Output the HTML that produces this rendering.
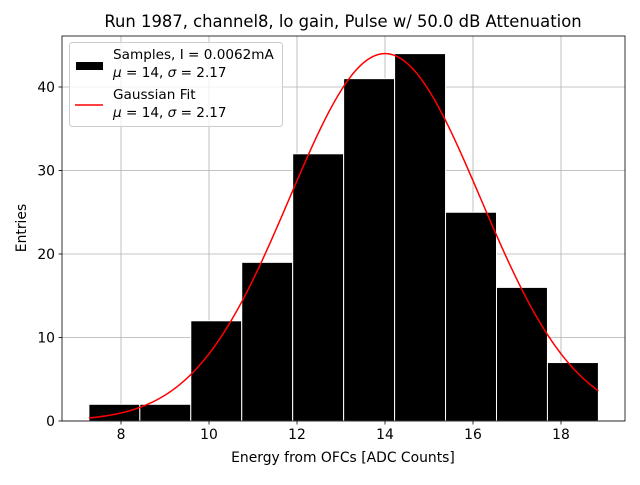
<!DOCTYPE html>
<html><head><meta charset="utf-8"><style>
body{margin:0;background:#fff;}
svg{font-family:"DejaVu Sans","Liberation Sans",sans-serif;}
</style></head><body>
<svg id="chart" width="640" height="480" xmlns="http://www.w3.org/2000/svg">
<text x="343" y="27" text-anchor="middle" font-size="16.4">Run 1987, channel8, lo gain, Pulse w/ 50.0 dB Attenuation</text>
<g id="grid"></g>
<g id="bars"></g>
<path id="fit" fill="none" stroke="#ff0000" stroke-width="1.5"/>
<rect x="62" y="36" width="563" height="385" fill="none" stroke="#000" stroke-width="0.8"/>
<g id="ticks" font-size="13.9"></g>
<text x="343" y="462" text-anchor="middle" font-size="13.9">Energy from OFCs [ADC Counts]</text>
<text transform="translate(26,228) rotate(-90)" text-anchor="middle" font-size="13.9">Entries</text>
<g>
<rect x="69.5" y="42.5" width="213" height="84" rx="3" fill="#fff" fill-opacity="0.8" stroke="#ccc"/>
<rect x="76" y="62" width="27" height="8" fill="#000"/>
<text x="113" y="59" font-size="13.6">Samples, I = 0.0062mA</text>
<text x="113" y="77" font-size="13.6"><tspan font-style="italic">μ</tspan> = 14, <tspan font-style="italic">σ</tspan> = 2.17</text>
<line x1="75" y1="105" x2="103" y2="105" stroke="#ff0000" stroke-width="1.5"/>
<text x="113" y="99" font-size="13.6">Gaussian Fit</text>
<text x="113" y="117" font-size="13.6"><tspan font-style="italic">μ</tspan> = 14, <tspan font-style="italic">σ</tspan> = 2.17</text>
</g>
</svg>
<script>
const binStart = 7.27;
const binWidth = 1.158;
const counts = [2, 2, 12, 19, 32, 41, 44, 25, 16, 7];
const xTicks = [8, 10, 12, 14, 16, 18];
const yTicks = [0, 10, 20, 30, 40];
const fitMu = 14;
const fitSigma = 2.17;
const fitPeak = 44;

const NS = "http://www.w3.org/2000/svg";
const X = v => 121 + (v - 8) * 44.0;
const Y = v => 421 - v * 8.35;
function mk(tag, attrs, parent){const e=document.createElementNS(NS,tag);for(const k in attrs)e.setAttribute(k,attrs[k]);parent.appendChild(e);return e;}
const grid=document.getElementById('grid'), ticks=document.getElementById('ticks'), bars=document.getElementById('bars');
xTicks.forEach(t=>{
  const g=mk('line',{x1:X(t),x2:X(t),y1:36,y2:421,stroke:'#b0b0b0','stroke-width':0.8},grid);
  
  
  mk('line',{x1:X(t),x2:X(t),y1:421,y2:424.5,stroke:'#000','stroke-width':0.8},ticks);
  const l=mk('text',{x:X(t),y:439,'text-anchor':'middle'},ticks);
  l.textContent=t;
  
  
});
yTicks.forEach(t=>{
  const g=mk('line',{x1:62,x2:625,y1:Y(t),y2:Y(t),stroke:'#b0b0b0','stroke-width':0.8},grid);
  
  
  mk('line',{x1:58.5,x2:62,y1:Y(t),y2:Y(t),stroke:'#000','stroke-width':0.8},ticks);
  const l=mk('text',{x:55,y:Y(t)+5,'text-anchor':'end'},ticks);
  l.textContent=t;
  
  
});
counts.forEach((c,i)=>{
  const x0=X(binStart+i*binWidth), x1=X(binStart+(i+1)*binWidth);
  const r=mk('rect',{x:x0,y:Y(c),width:x1-x0,height:Y(0)-Y(c),fill:'#000',stroke:'#fff','stroke-width':1},bars);
  
  
});
let d='';
const xa=binStart, xb=binStart+counts.length*binWidth;
for(let k=0;k<=200;k++){
  const x=xa+(xb-xa)*k/200;
  const y=fitPeak*Math.exp(-0.5*((x-fitMu)/fitSigma)**2);
  d+=(k?'L':'M')+X(x).toFixed(2)+','+Y(y).toFixed(2);
}
document.getElementById('fit').setAttribute('d',d);
</script>
</body></html>
